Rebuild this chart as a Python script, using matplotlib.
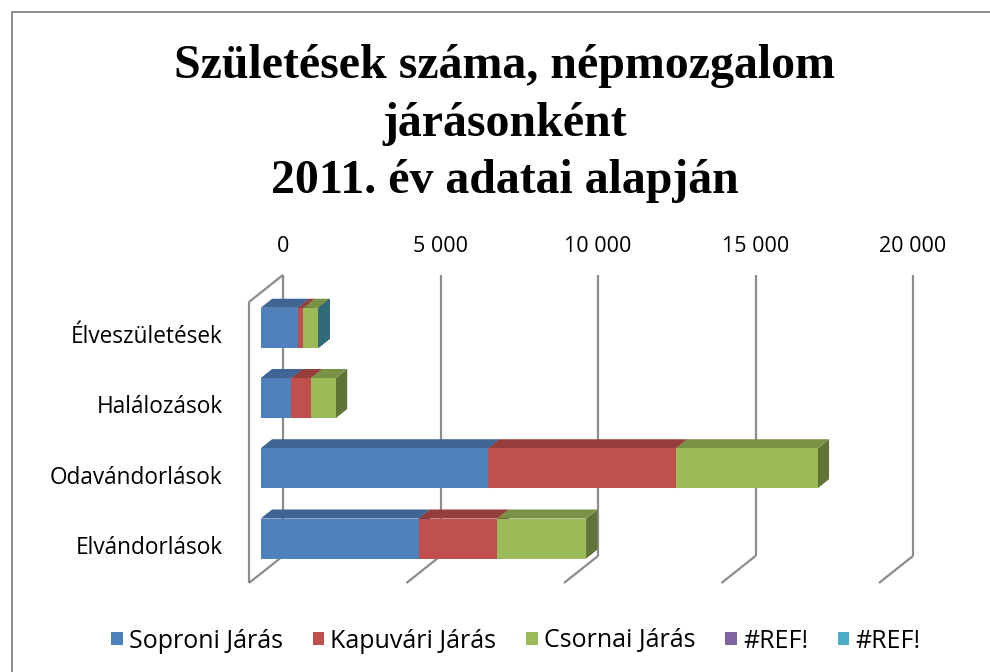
import numpy as np
import matplotlib
matplotlib.use("Agg")
import matplotlib.pyplot as plt
from matplotlib.patches import Polygon, Patch, Rectangle
from matplotlib.colors import to_rgb

# népmozgalmi adatok járásonként, 2011
categories = ["Élveszületések", "Halálozások", "Odavándorlások", "Elvándorlások"]
series_names = ["Soproni Járás", "Kapuvári Járás", "Csornai Járás", "#REF!", "#REF!"]
sopron = [1175, 975, 7220, 5015]
kapuvar = [180, 615, 5960, 2495]
csorna = [475, 795, 4500, 2820]
ref_a = [0, np.nan, np.nan, np.nan]
ref_b = [0, np.nan, np.nan, np.nan]
series_colors = ["#4F81BD", "#C0504D", "#9BBB59", "#8064A2", "#4BACC6"]

tick_values = [0, 5000, 10000, 15000, 20000]
tick_labels = ["0", "5 000", "10 000", "15 000", "20 000"]
title_lines = ["Születések száma, népmozgalom", "járásonként", "2011. év adatai alapján"]

# oblique depth of the plot box (back wall -> front edge), in data units
DEPTH_X = -1080.0
DEPTH_Y = 0.384
BAR_BACK = 0.32    # depth fraction where the bars start
BAR_FRONT = 0.656  # depth fraction of the bar front faces
HALF_H = 0.285

plt.rcParams["font.family"] = ["Open Sans", "DejaVu Sans"]

fig = plt.figure(figsize=(9.9, 6.72), dpi=100)
ax = fig.add_axes([283 / 990, 1 - 556 / 672, 630 / 990, 281 / 672])
ax.set_xlim(0, 20000)
ax.set_ylim(len(categories) - 0.5, -0.5)
for s in ax.spines.values():
    s.set_visible(False)
ax.set_yticks([])
ax.xaxis.set_ticks_position("top")
ax.set_xticks(tick_values)
ax.set_xticklabels(tick_labels)
ax.tick_params(axis="x", length=0, pad=13, labelsize=15.5)
ax.patch.set_alpha(0)

# chart frame
fig.patches.append(Rectangle((12 / 990, -0.1), 1.2, 1.1 - 12 / 672,
                             transform=fig.transFigure, fill=False,
                             edgecolor="#8c8c8c", lw=1.4))


def off(x, y, f):
    return (x + f * DEPTH_X, y + f * DEPTH_Y)


grid_kw = dict(color="#8c8c8c", lw=1.6, clip_on=False, zorder=1,
               solid_capstyle="butt")
y_top, y_bot = -0.5, len(categories) - 0.5
for v in tick_values:
    ax.plot([v, v], [y_top, y_bot], **grid_kw)
    fx, fy = off(v, y_bot, 1.0)
    ax.plot([v, fx], [y_bot, fy], **grid_kw)
# left wall
fx, fy = off(0, y_top, 1.0)
ax.plot([0, fx], [y_top, fy], **grid_kw)
bx, by = off(0, y_bot, 1.0)
ax.plot([fx, bx], [fy, by], **grid_kw)


def shade(c, k):
    r, g, b = to_rgb(c)
    return (r * k, g * k, b * k)


all_series = [sopron, kapuvar, csorna, ref_a, ref_b]
for ci in range(len(categories)):
    left = 0.0
    for vals, col in zip(all_series, series_colors):
        v = vals[ci]
        if np.isnan(v):
            continue
        x0, x1 = left, left + v
        y0, y1 = ci - HALF_H, ci + HALF_H
        # front face
        p = [off(x0, y0, BAR_FRONT), off(x1, y0, BAR_FRONT),
             off(x1, y1, BAR_FRONT), off(x0, y1, BAR_FRONT)]
        # top face
        t = [off(x0, y0, BAR_FRONT), off(x1, y0, BAR_FRONT),
             off(x1, y0, BAR_BACK), off(x0, y0, BAR_BACK)]
        # right side face
        sd = [off(x1, y0, BAR_FRONT), off(x1, y1, BAR_FRONT),
              off(x1, y1, BAR_BACK), off(x1, y0, BAR_BACK)]
        ax.add_patch(Polygon(sd, closed=True, fc=shade(col, 0.62), ec="none",
                             clip_on=False, zorder=3))
        ax.add_patch(Polygon(t, closed=True, fc=shade(col, 0.78), ec="none",
                             clip_on=False, zorder=3))
        if v > 0:
            ax.add_patch(Polygon(p, closed=True, fc=col, ec="none",
                                 clip_on=False, zorder=3))
        left = x1

# category labels on the front edge of the left wall
for ci, name in enumerate(categories):
    ax.annotate(name, xy=off(0, ci, 1.0), xytext=(-19, 0),
                textcoords="offset points", ha="right", va="center",
                fontsize=16.3, annotation_clip=False)

# title
for i, line in enumerate(title_lines):
    fig.text(505 / 990, 1 - (78 + 57.5 * i) / 672, line, ha="center",
             va="baseline", fontsize=34.5, fontweight="bold",
             family=["Liberation Serif", "DejaVu Serif"])

handles = [Patch(facecolor=c, edgecolor="none", label=n)
           for c, n in zip(series_colors, series_names)]
fig.legend(handles=handles, loc="center", ncol=5, frameon=False,
           bbox_to_anchor=(516 / 990, 1 - 641 / 672), fontsize=18,
           handlelength=0.45, handleheight=0.45, handletextpad=0.25,
           columnspacing=1.2)

fig.savefig("out.png", dpi=100)
